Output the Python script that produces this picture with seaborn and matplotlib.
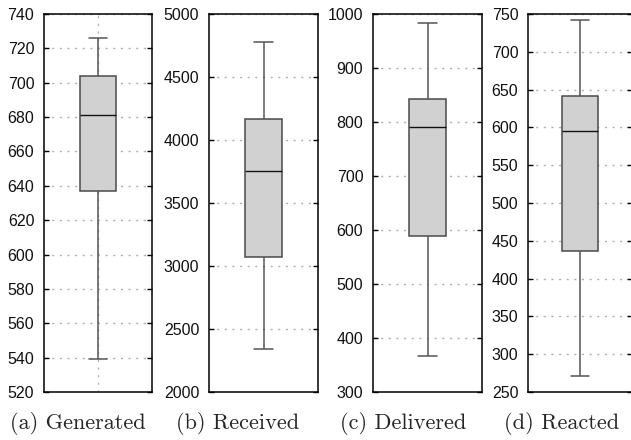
import pandas as pd
import numpy as np
import matplotlib
matplotlib.use("Agg")
import matplotlib.pyplot as plt
import seaborn as sns

# five-number summaries: min, Q1, median, Q3, max
generated = [539, 637, 681, 704, 726]
received = [2340, 3070, 3754, 4165, 4779]
delivered = [367, 589, 790, 842, 983]
reacted = [271, 437, 595, 641, 742]

captions = ["(a) Generated", "(b) Received", "(c) Delivered", "(d) Reacted"]
ylims = [(520, 740), (2000, 5000), (300, 1000), (250, 750)]
ysteps = [20, 500, 100, 50]

sns.set_style("ticks")
plt.rcParams["font.family"] = ["Liberation Sans", "DejaVu Sans"]

fig = plt.figure(figsize=(6.31, 4.40), dpi=100)

# axes boxes in pixels (left, right)
lefts = [44, 209, 373, 528]
rights = [152, 318, 482, 632]
cap_x = [78, 238, 403, 562]
bottom = 1 - 392 / 440
height = (392 - 14) / 440

series = [generated, received, delivered, reacted]
for i, vals in enumerate(series):
    ax = fig.add_axes([lefts[i] / 631, bottom, (rights[i] - lefts[i]) / 631, height])
    df = pd.DataFrame({"value": vals})
    sns.boxplot(
        data=df, y="value", ax=ax,
        width=0.34, whis=(0, 100), saturation=1,
        color="#d0d1d0", linecolor="#4a4a4a", linewidth=1.1,
        medianprops={"color": "#111111", "linewidth": 1.0},
        whiskerprops={"color": "#555555", "linewidth": 1.1},
        capprops={"color": "#555555", "linewidth": 1.1},
        zorder=3,
    )
    lo, hi = ylims[i]
    ax.set_ylim(lo, hi)
    ax.set_xlim(-0.5, 0.5)
    ax.set_yticks(np.arange(lo, hi + 1, ysteps[i]))
    ax.yaxis.grid(True, color="#b0b0b0", linestyle=(0, (1.5, 4)), linewidth=1.0)
    if i == 0:
        ax.xaxis.grid(True, color="#b0b0b0", linestyle=(0, (1.5, 4)), linewidth=1.0)
    ax.set_axisbelow(True)
    ax.set_xticks([0])
    ax.set_xticklabels([])
    ax.tick_params(axis="x", length=0)
    ax.tick_params(axis="y", direction="in", left=True, right=True, length=3.6,
                   width=1.0, color="black", labelsize=11.5, pad=7, labelcolor="#111111")
    ax.set_xlabel("")
    ax.set_ylabel("")
    for s in ax.spines.values():
        s.set_visible(True)
        s.set_color("black")
        s.set_linewidth(1.1)
    fig.text(cap_x[i] / 631, 1 - 423 / 440, captions[i], ha="center", va="center",
             fontsize=16, family="cmr10")

fig.savefig("out.png", dpi=100)
